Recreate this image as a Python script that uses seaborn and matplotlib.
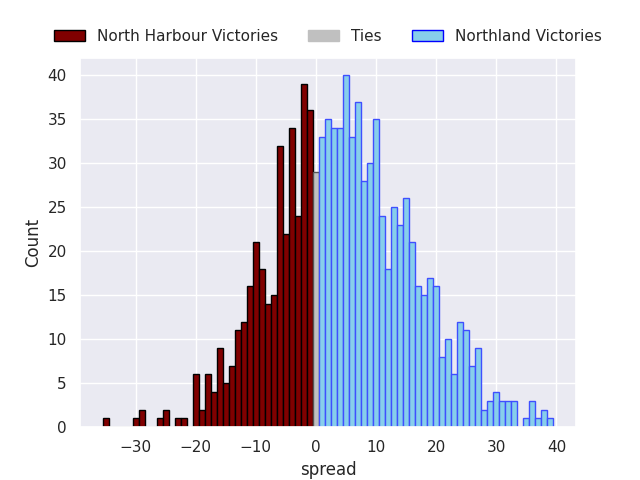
import numpy as np
import pandas as pd
import seaborn as sns
import matplotlib
matplotlib.use("Agg")
import matplotlib.pyplot as plt
from matplotlib.patches import Patch

# Spread values (integer bins) and counts
nh_spread = [-35, -30, -29, -26, -25, -23, -22, -20, -19, -18, -17, -16, -15, -14,
             -13, -12, -11, -10, -9, -8, -7, -6, -5, -4, -3, -2, -1]
nh_count = [1, 1, 2, 1, 2, 1, 1, 6, 2, 6, 4, 9, 5, 7,
            11, 12, 16, 21, 18, 14, 15, 32, 22, 34, 24, 39, 36]

tie_spread = [0]
tie_count = [29]

nl_spread = [1, 2, 3, 4, 5, 6, 7, 8, 9, 10, 11, 12, 13, 14, 15, 16, 17, 18, 19, 20,
             21, 22, 23, 24, 25, 26, 27, 28, 29, 30, 31, 32, 33, 35, 36, 37, 38, 39]
nl_count = [33, 35, 34, 34, 40, 33, 37, 28, 30, 35, 24, 18, 25, 23, 26, 21, 16, 15, 17, 16,
            8, 10, 6, 12, 11, 7, 9, 2, 3, 4, 3, 3, 3, 1, 3, 1, 2, 1]

nh = pd.DataFrame({"spread": nh_spread, "n": nh_count})
tie = pd.DataFrame({"spread": tie_spread, "n": tie_count})
nl = pd.DataFrame({"spread": nl_spread, "n": nl_count})

sns.set_theme(style="darkgrid")
fig, ax = plt.subplots(figsize=(6.4, 4.8), dpi=100)

sns.histplot(data=nh, x="spread", weights="n", discrete=True, ax=ax,
             color="#800000", edgecolor="black", linewidth=1, alpha=1)
sns.histplot(data=tie, x="spread", weights="n", discrete=True, ax=ax,
             color="#C0C0C0", edgecolor="#555555", linewidth=1, alpha=1)
sns.histplot(data=nl, x="spread", weights="n", discrete=True, ax=ax,
             color="#87CEEB", edgecolor="#3F4FFF", linewidth=1, alpha=1)

ax.set_xlabel("spread")
ax.set_ylabel("Count")

handles = [
    Patch(facecolor="#800000", edgecolor="black", label="North Harbour Victories"),
    Patch(facecolor="#C0C0C0", edgecolor="#C0C0C0", label="Ties"),
    Patch(facecolor="#87CEEB", edgecolor="blue", label="Northland Victories"),
]
ax.legend(handles=handles, loc="lower center", bbox_to_anchor=(0.5, 1.0),
          ncol=3, frameon=False)

fig.savefig("out.png", dpi=100)
